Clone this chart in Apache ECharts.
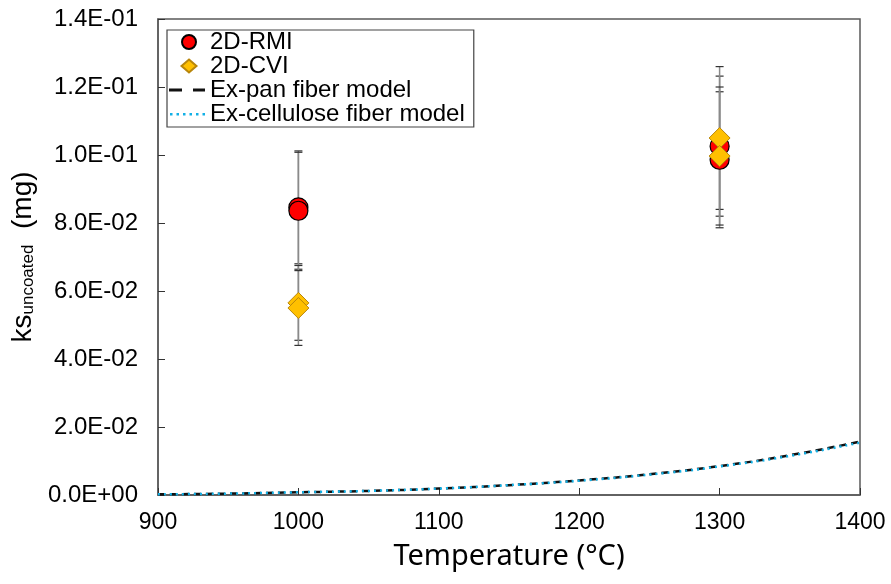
<!DOCTYPE html>
<html>
<head>
<meta charset="utf-8">
<script src="https://cdn.jsdelivr.net/npm/echarts@6/dist/echarts.min.js"></script>
<style>
  html, body { margin: 0; padding: 0; background: #fff; }
  #chart { width: 891px; height: 584px; }
</style>
</head>
<body>
<div id="chart"></div>
<script>
// measured points (temperature, ks) and their error half-widths
const rmiT = [1000, 1000, 1300, 1300]
const rmiKs = [0.0846, 0.0836, 0.1026, 0.0986]
const rmiErr = [0.0166, 0.0172, 0.0206, 0.0200]

const cviT = [1000, 1000, 1300, 1300]
const cviKs = [0.0565, 0.0550, 0.1050, 0.0997]
const cviErr = [0.0110, 0.0110, 0.0210, 0.0203]

// model curves
const modelT = [900, 950, 1000, 1050, 1100, 1150, 1200, 1250, 1300, 1350, 1400]
const panKs = [0.0002, 0.0004, 0.0008, 0.0012, 0.0019, 0.0029, 0.0043, 0.0061, 0.0085, 0.0117, 0.0157]
const celKs = [0.0002, 0.0004, 0.0008, 0.0012, 0.0019, 0.0029, 0.0042, 0.0060, 0.0084, 0.0115, 0.0154]

const xTicks = [900, 1000, 1100, 1200, 1300, 1400]

const chart = echarts.init(document.getElementById('chart'))

function pts (xs, ys) {
  return xs.map((x, i) => [x, ys[i]])
}
function bars (xs, ys, es) {
  return xs.map((x, i) => [x, ys[i] - es[i], ys[i] + es[i]])
}
function sci (v) {
  const s = Number(v).toExponential(1).split('e')
  let e = parseInt(s[1], 10)
  const sign = e < 0 ? '-' : '+'
  e = Math.abs(e)
  return s[0] + 'E' + sign + (e < 10 ? '0' + e : e)
}

function errorBar (params, api) {
  const x = api.value(0)
  const lo = api.coord([x, api.value(1)])
  const hi = api.coord([x, api.value(2)])
  const w = 4
  return {
    type: 'group',
    children: [
      { type: 'line', shape: { x1: hi[0], y1: hi[1], x2: lo[0], y2: lo[1] }, style: { stroke: '#8a8a8a', lineWidth: 1.5 } },
      { type: 'line', shape: { x1: hi[0] - w, y1: hi[1], x2: hi[0] + w, y2: hi[1] }, style: { stroke: '#333', lineWidth: 1.2 } },
      { type: 'line', shape: { x1: lo[0] - w, y1: lo[1], x2: lo[0] + w, y2: lo[1] }, style: { stroke: '#333', lineWidth: 1.2 } }
    ]
  }
}

// legend icons drawn in a 36x18 box (the leading moves fix the box size)
const box = 'path://M0,0M36,18'
const iconCircle = box + 'M13,9a7,7 0 1,0 14,0a7,7 0 1,0 -14,0Z'
const iconDiamond = box + 'M20,2.5L27.5,9L20,15.5L12.5,9Z'
const iconDash = box + 'M0,7.5h13v3h-13zM24,7.5h12v3h-12z'
const iconDot = box + 'M1,8h2.5v2.5h-2.5zM7.5,8h2.5v2.5h-2.5zM14,8h2.5v2.5h-2.5zM20.5,8h2.5v2.5h-2.5zM27,8h2.5v2.5h-2.5zM33.5,8h2.5v2.5h-2.5z'

chart.setOption({
  animation: false,
  textStyle: { fontFamily: 'Liberation Sans' },
  grid: { left: 158, right: 31, top: 19, bottom: 89, show: true, borderColor: '#5a5a5a', borderWidth: 1.5 },
  legend: {
    data: [
      { name: '2D-RMI', icon: iconCircle },
      { name: '2D-CVI', icon: iconDiamond },
      { name: 'Ex-pan fiber model', icon: iconDash },
      { name: 'Ex-cellulose fiber model', icon: iconDot }
    ],
    orient: 'vertical',
    left: 167,
    top: 30,
    padding: [0, 9, 1, 1],
    itemGap: 0,
    itemWidth: 36,
    itemHeight: 18,
    backgroundColor: '#fff',
    borderColor: '#444',
    borderWidth: 1.2,
    textStyle: { fontSize: 24, lineHeight: 24, color: '#000', fontFamily: 'Liberation Sans' }
  },
  xAxis: {
    type: 'value',
    min: 900,
    max: 1400,
    interval: 100,
    name: 'Temperature (°C)',
    nameLocation: 'middle',
    nameGap: 47,
    nameTextStyle: { fontSize: 29, color: '#000', fontFamily: 'Noto Sans' },
    axisLine: { lineStyle: { color: '#5a5a5a', width: 1.5 } },
    axisTick: { inside: true, length: 7, lineStyle: { color: '#333' } },
    axisLabel: { fontSize: 23, color: '#000', margin: 16, formatter: v => xTicks.includes(v) ? String(v) : '' },
    splitLine: { show: false }
  },
  yAxis: {
    type: 'value',
    min: 0,
    max: 0.14,
    interval: 0.02,
    name: '{a|ks}{b|uncoated}{a|  (mg)}',
    nameLocation: 'middle',
    nameGap: 120,
    nameRotate: 90,
    nameTextStyle: {
      rich: {
        a: { fontSize: 28, color: '#000', fontFamily: 'Liberation Sans', verticalAlign: 'bottom', lineHeight: 32 },
        b: { fontSize: 17, color: '#000', fontFamily: 'Liberation Sans', verticalAlign: 'bottom', lineHeight: 22 }
      }
    },
    axisLine: { show: true, lineStyle: { color: '#5a5a5a', width: 1.5 } },
    axisTick: { show: true, inside: true, length: 7, lineStyle: { color: '#333' } },
    axisLabel: { fontSize: 24, color: '#000', margin: 20, formatter: sci },
    splitLine: { show: false }
  },
  series: [
    {
      name: 'rmiErr',
      type: 'custom',
      renderItem: errorBar,
      data: bars(rmiT, rmiKs, rmiErr),
      z: 1
    },
    {
      name: 'cviErr',
      type: 'custom',
      renderItem: errorBar,
      data: bars(cviT, cviKs, cviErr),
      z: 1
    },
    {
      name: 'Ex-pan fiber model',
      type: 'line',
      data: pts(modelT, panKs),
      smooth: true,
      showSymbol: false,
      symbol: 'none',
      lineStyle: { color: '#111', width: 2.5, type: [7, 5] },
      itemStyle: { color: '#111', borderWidth: 0 },
      z: 2
    },
    {
      name: 'Ex-cellulose fiber model',
      type: 'line',
      data: pts(modelT, celKs),
      smooth: true,
      showSymbol: false,
      symbol: 'none',
      lineStyle: { color: '#12b0e6', width: 2.5, type: [2, 4] },
      itemStyle: { color: '#12b0e6', borderWidth: 0 },
      z: 3
    },
    {
      name: '2D-RMI',
      type: 'scatter',
      data: pts(rmiT, rmiKs),
      symbol: 'circle',
      symbolSize: 19,
      itemStyle: { color: '#ff0000', borderColor: '#000', borderWidth: 1.2, opacity: 1 },
      z: 4
    },
    {
      name: '2D-CVI',
      type: 'scatter',
      data: pts(cviT, cviKs),
      symbol: 'diamond',
      symbolSize: [21, 21],
      itemStyle: { color: '#ffc000', borderColor: '#b8860b', borderWidth: 1, opacity: 1 },
      z: 5
    }
  ]
})
</script>
</body>
</html>
